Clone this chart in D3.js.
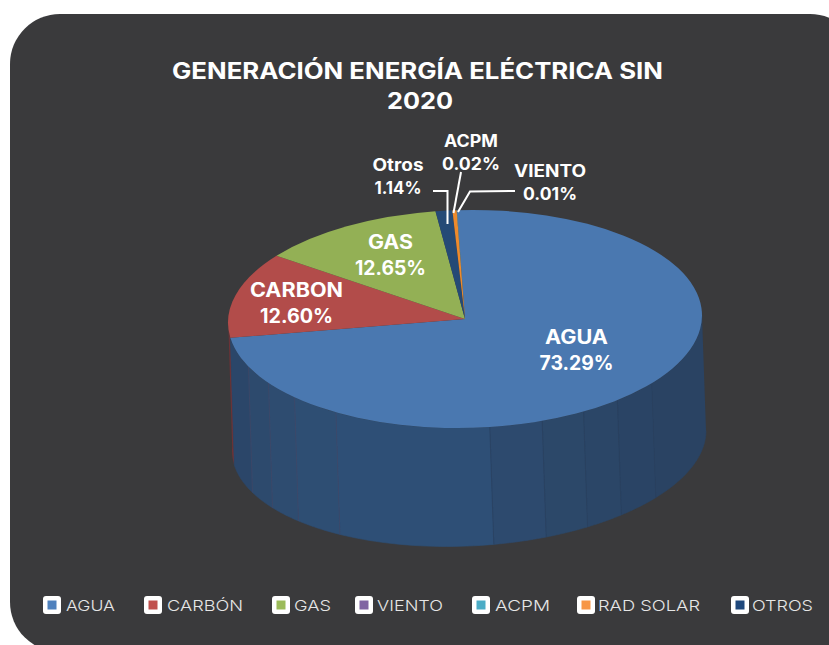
<!DOCTYPE html>
<html><head><meta charset="utf-8">
<script src="https://cdnjs.cloudflare.com/ajax/libs/d3/7.8.5/d3.min.js"></script>
<style>html,body{margin:0;padding:0;background:#fff;overflow:hidden}svg{display:block}text{font-family:Inter,"Noto Sans",sans-serif}</style>
</head><body><svg id="c" width="829" height="645"></svg>
<script>
const titleLines = ["GENERACIÓN ENERGÍA ELÉCTRICA SIN", "2020"];
const titleWidths = [491, 66];
const titleCentres = [417.5, 420];
const sliceNames = ["AGUA", "CARBÓN", "GAS", "OTROS", "RAD SOLAR", "ACPM", "VIENTO"];
const sliceValues = [73.29, 12.60, 12.65, 1.14, 0.29, 0.02, 0.01];
const sliceColors = ["#4a78b0", "#b24c4a", "#93b055", "#254a76", "#ee8a2c", "#4aaec8", "#b9b9bb"];
const legendNames = ["AGUA", "CARBÓN", "GAS", "VIENTO", "ACPM", "RAD SOLAR", "OTROS"];
const legendColors = ["#4f81bd", "#c0504d", "#9bbb59", "#8064a2", "#4bacc6", "#f79646", "#1f497d"];
const legendX = [43, 144, 272, 355, 472, 577, 731];
const legendTextX = [23, 23, 22, 22, 23, 21, 21];
const legendWidths = [49, 76, 37, 66, 55, 102, 61];
const facetDegrees = [90, 128, 140, 150, 161, 174, 213, 226, 236, 246, 262];
const facetShades = ["#2a4363", "#2a4465", "#2b4667", "#2c4869", "#2d4a6e", "#2e4f76", "#2e4e73", "#2e4c70", "#2d4a6d", "#2b4669"];

const svg = d3.select("#c");
const rad = d => d * Math.PI / 180;

// panel
svg.append("rect").attr("x", 10).attr("y", 14).attr("width", 850).attr("height", 638).attr("rx", 50).attr("fill", "#3a3a3c");

// title
svg.append("g").selectAll("text").data(titleLines).join("text")
  .attr("x", (d, i) => titleCentres[i]).attr("y", (d, i) => 78.5 + i * 30).attr("text-anchor", "middle")
  .attr("font-size", 22.5).attr("font-weight", 700).attr("fill", "#fff")
  .attr("textLength", (d, i) => titleWidths[i]).attr("lengthAdjust", "spacingAndGlyphs").text(d => d);

// pie geometry
const top_ = {cx: 465, cy: 319, rx: 237, ry: 109, k: -0.015};
const bot = {cx: 469, cy: 440.5, rx: 237, ry: 105.5, k: -0.042};
const pt = (e, a) => [e.cx + e.rx * Math.sin(a), e.cy - e.ry * Math.cos(a) + e.k * e.rx * Math.sin(a)];
const wallPath = (a0, a1) => {
  const as = d3.range(0, 25).map(i => a0 + (a1 - a0) * i / 24);
  return d3.line()(as.map(a => pt(top_, a)).concat(as.slice().reverse().map(a => pt(bot, a))));
};

const startAngle = rad(-1.9);
const arcs = d3.pie().sort(null).startAngle(startAngle).endAngle(startAngle + 2 * Math.PI)(sliceValues);

// walls
const walls = svg.append("g");
walls.append("path").attr("d", wallPath(arcs[0].endAngle, rad(272))).attr("fill", "#6d3236");
const facets = d3.pairs(facetDegrees).map(([a, b], i) => ({a: rad(a), b: rad(b), c: facetShades[i]}));
walls.selectAll("path.f").data(facets).join("path").attr("class", "f")
  .attr("d", d => wallPath(d.a, d.b)).attr("fill", d => d.c).attr("stroke", d => d.c).attr("stroke-width", 0.6);
walls.selectAll("line").data(facetDegrees.slice(1, -1)).join("line")
  .attr("x1", d => pt(top_, rad(d))[0]).attr("y1", d => pt(top_, rad(d))[1])
  .attr("x2", d => pt(bot, rad(d))[0]).attr("y2", d => pt(bot, rad(d))[1])
  .attr("stroke", d => d > 200 ? "#44486a" : "#28405f").attr("stroke-width", 0.6);

// top face
const arc = d3.arc().innerRadius(0).outerRadius(top_.rx);
svg.append("g")
  .attr("transform", `translate(${top_.cx},${top_.cy}) matrix(1,${top_.k},0,${top_.ry / top_.rx},0,0)`)
  .selectAll("path").data(arcs).join("path").attr("d", arc).attr("fill", (d, i) => sliceColors[i]);

// leader lines
const leaders = [
  [[433, 191], [447.5, 191], [447.5, 224]],
  [[461, 172], [453.5, 213]],
  [[515, 191], [470, 191.5], [458, 212]]
];
svg.append("g").selectAll("path").data(leaders).join("path")
  .attr("d", d3.line()).attr("fill", "none").attr("stroke", "#fff").attr("stroke-width", 2);

// labels: text, value, centre x, baseline, size, text width, value width
const labelRows = [
  ["AGUA", "73.29%", 576.5, 344, 19.5, 63, 74],
  ["CARBON", "12.60%", 296.5, 297, 19.5, 93, 73],
  ["GAS", "12.65%", 390.5, 249, 19.5, 45, 71],
  ["Otros", "1.14%", 398, 171, 17, 51, 47],
  ["ACPM", "0.02%", 471, 147, 17, 54, 58],
  ["VIENTO", "0.01%", 550, 177, 17, 72, 54]
];
const lab = svg.append("g").attr("fill", "#fff").attr("font-weight", 700).attr("text-anchor", "middle");
labelRows.forEach(r => {
  lab.append("text").attr("x", r[2]).attr("y", r[3]).attr("font-size", r[4])
    .attr("textLength", r[5]).attr("lengthAdjust", "spacingAndGlyphs").text(r[0]);
  lab.append("text").attr("x", r[2]).attr("y", r[3] + (r[4] > 18 ? 25.5 : 23)).attr("font-size", r[4])
    .attr("textLength", r[6]).attr("lengthAdjust", "spacingAndGlyphs").text(r[1]);
});

// legend
const leg = svg.append("g").selectAll("g").data(legendNames).join("g")
  .attr("transform", (d, i) => `translate(${legendX[i]},596)`);
leg.append("rect").attr("width", 18).attr("height", 18).attr("rx", 3).attr("fill", "#fff");
leg.append("rect").attr("x", 4.5).attr("y", 4.5).attr("width", 9).attr("height", 9).attr("fill", (d, i) => legendColors[i]);
leg.append("text").attr("x", (d, i) => legendTextX[i]).attr("y", 15).attr("font-size", 15).attr("font-weight", 300).attr("fill", "#e6e6e6")
  .attr("textLength", (d, i) => legendWidths[i]).attr("lengthAdjust", "spacingAndGlyphs").text(d => d);
</script></body></html>
